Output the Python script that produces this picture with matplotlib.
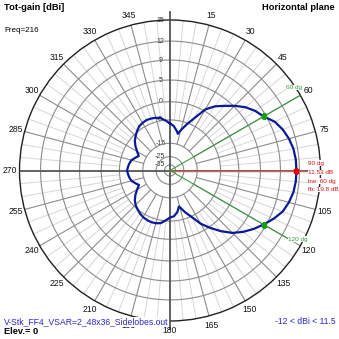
import numpy as np
import matplotlib.pyplot as plt

plt.rcParams['font.family'] = ['Liberation Sans', 'DejaVu Sans']

# horizontal-plane pattern, azimuth in degrees (0 = Y, clockwise), total gain in dBi
azimuth = [0, 5, 10, 12, 15, 20, 25, 30, 35, 40, 45, 50, 55, 60, 65, 70, 75, 80, 85, 90,
           95, 100, 105, 110, 115, 120, 125, 130, 135, 140, 145, 150, 155, 160, 166, 170, 175,
           180, 185, 190, 195, 200, 205, 210, 215, 220, 225, 230, 235, 240, 245, 250, 255,
           260, 265, 270, 275, 280, 285, 290, 295, 300, 305, 310, 315, 320, 325, 330, 335,
           340, 345, 350, 355]
gain = [-6.5, -7.6, -9.6, -10.6, -8.8, -5.6, -3.0, 0.4, 2.2, 3.6, 5.2, 6.6, 7.7, 8.53, 9.8,
        10.5, 11.0, 11.35, 11.5, 11.53,
        11.5, 11.35, 11.0, 10.5, 9.6, 8.53, 7.3, 6.0, 4.5, 2.4, 0.3, -2.0, -4.8, -7.6, -10.8,
        -8.6, -7.0,
        -6.5, -5.2, -4.2, -3.9, -3.8, -3.9, -4.1, -4.5, -5.0, -5.8, -7.0, -8.6, -10.4, -12.0,
        -10.8, -9.6, -9.0, -8.6, -8.27, -8.6, -9.0, -9.6, -10.8, -11.9, -10.4, -8.6, -7.0,
        -5.8, -4.8, -4.1, -3.8, -3.6, -3.7, -3.9, -4.3, -5.2]

ring_db = [15, 12, 9, 5, 0, -5, -15, -25, -35]
max_dir = 90
max_gain = 11.53
beamwidth = 60
front_back = 19.8
freq = 216
elev = 0
file_name = "V-Stk_FF4_VSAR=2_48x36_Sidelobes.out"

# log-like radial scale used by the plot (dBi -> fraction of outer radius)
SCALE_DB = [-45, -35, -25, -15, -5, 0, 5, 9, 12, 15]
SCALE_R = [0.0, 0.037, 0.092, 0.181, 0.336, 0.457, 0.601, 0.734, 0.860, 1.0]


def rad(db):
    return np.interp(db, SCALE_DB, SCALE_R)


W = 339.0
cx, cy, R = 170.0, 170.5, 150.5

fig = plt.figure(figsize=(3.39, 3.39), dpi=100)
fig.patch.set_facecolor('white')
ax = fig.add_axes([(cx - R) / W, (W - cy - R) / W, 2 * R / W, 2 * R / W], projection='polar')
ax.set_theta_zero_location('N')
ax.set_theta_direction(-1)
ax.set_ylim(0, 1)
ax.set_xticks([])
ax.set_yticks([])
ax.grid(False)
ax.spines['polar'].set_color('#202020')
ax.spines['polar'].set_linewidth(1.0)

circ = np.linspace(0, 2 * np.pi, 721)
for db in ring_db[1:]:
    ax.plot(circ, np.full_like(circ, rad(db)), color='#8c8c8c', lw=0.8, zorder=2)

# spokes: light every 5 deg, darker every 15 deg
for a in range(0, 360, 5):
    t = np.radians(a)
    if a % 90 == 0:
        continue
    if a % 15 == 0:
        ax.plot([t, t], [rad(-15), 1], color='#8c8c8c', lw=0.8, zorder=2)
    else:
        ax.plot([t, t], [rad(-5), 1], color='#d6d6d6', lw=0.7, zorder=1)

# main axes through the centre
t = np.radians(90)
ax.plot([t, t + np.pi], [1.0, 1.0], color='#555555', lw=1.3, zorder=3)
ax.plot([np.pi, np.pi], [0, 1.05], color='#555555', lw=1.3, zorder=3, clip_on=False)
ax.plot([0, 0], [0, 1.05], color='#555555', lw=1.3, zorder=3, clip_on=False)

# ring labels along the vertical axis
for db in ring_db:
    ax.annotate(str(db), xy=(0, rad(db)), xytext=(-7, 0), textcoords='offset points',
                ha='center', va='center', fontsize=5, color='#333333', zorder=1)

# angle labels (the 90 one sits under the beam readout)
for a in range(15, 360, 15):
    if a == 90:
        continue
    ax.text(np.radians(a), 1.063, str(a), ha='center', va='center', fontsize=6.2,
            color='#111111')
ax.annotate('0', xy=(0, 1.075), xytext=(-5, 0), textcoords='offset points',
            ha='center', va='center', fontsize=6.2)
ax.annotate('Y', xy=(0, 1.07), xytext=(5, 0), textcoords='offset points',
            ha='center', va='center', fontsize=6.5, fontweight='bold')

# beam direction and -3 dB lines
t_max = np.radians(max_dir)
t_lo = np.radians(max_dir - beamwidth / 2)
t_hi = np.radians(max_dir + beamwidth / 2)
ax.plot([t_max, t_max], [0, 0.904], color='#d06060', lw=1.0, zorder=4)
ax.plot([t_lo, t_lo], [0, 1.0], color='#3c9c3c', lw=0.8, zorder=4)
ax.plot([t_hi, t_hi], [0, 0.9], color='#3c9c3c', lw=0.8, zorder=4)

# pattern
th = np.radians(azimuth + [azimuth[0]])
ax.plot(th, rad(np.array(gain + [gain[0]])), color='#0a1a96', lw=1.6, zorder=5)
ax.plot([t_max], [rad(max_gain)], 's', color='#e00000', ms=2.5, zorder=6)
ax.plot([t_lo, t_hi], [rad(max_gain - 3), rad(max_gain - 3)], 's', color='#10a010', ms=2.5,
        zorder=6)


def px(x, y):
    return x / W, 1 - y / W


white = dict(facecolor='white', edgecolor='none', pad=0.3)
fig.text(*px(4, 8), 'Tot-gain [dBi]', fontsize=6.7, fontweight='bold', va='center')
fig.text(*px(4, 31), 'Freq=%d' % freq, fontsize=5.8, va='center')
fig.text(*px(335, 8), 'Horizontal plane', fontsize=6.7, fontweight='bold', va='center',
         ha='right')
fig.text(*px(4, 322), file_name, fontsize=6.2, color='#2828c8', va='center', bbox=white)
fig.text(*px(4, 332), 'Elev.= %d' % elev, fontsize=6.7, fontweight='bold', va='center')
fig.text(*px(336, 322), '%d < dBi < %.1f' % (min(gain), max(gain)), fontsize=6.2,
         color='#2828c8', va='center', ha='right', bbox=white)

red = '#d01010'
fig.text(*px(308, 163.3), '%d dg' % max_dir, fontsize=4.6, color=red, va='center', bbox=white)
fig.text(*px(308, 172.5), '%.2f dB' % max_gain, fontsize=4.6, color=red, va='center',
         bbox=white)
fig.text(*px(308, 181), 'bw: %d dg' % beamwidth, fontsize=4.6, color=red, va='center',
         bbox=white)
fig.text(*px(308, 189.5), 'fb: %.1f dB' % front_back, fontsize=4.6, color=red, va='center',
         bbox=white)

green = '#30a030'
fig.text(*px(302, 90), '%d dg' % (max_dir - beamwidth / 2), fontsize=4.6, color=green,
         va='bottom', ha='right', bbox=white)
fig.text(*px(288, 239), '%d dg' % (max_dir + beamwidth / 2), fontsize=4.6, color=green,
         va='center', ha='left', bbox=white)

fig.savefig('out.png', dpi=100, facecolor='white')
